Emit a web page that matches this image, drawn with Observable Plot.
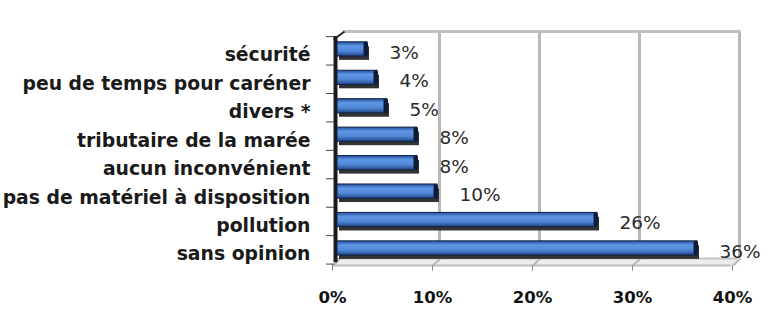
<!DOCTYPE html>
<html><head><meta charset="utf-8">
<script src="https://cdn.jsdelivr.net/npm/d3@7"></script>
<script src="https://cdn.jsdelivr.net/npm/@observablehq/plot@0.6"></script>
<style>body{margin:0;background:#fff}</style>
</head><body><div id="chart"></div>
<script>
const categories = ["sécurité","peu de temps pour caréner","divers *","tributaire de la marée","aucun inconvénient","pas de matériel à disposition","pollution","sans opinion"];
const values = [3,4,5,8,8,10,26,36];
const valueLabels = ["3%","4%","5%","8%","8%","10%","26%","36%"];
const xTicks = [0,10,20,30,40];
const xTickLabels = ["0%","10%","20%","30%","40%"];

const n = categories.length;
const rows = categories.map((c,i)=>({category:c, value:values[i], label:valueLabels[i], pos:n-1-i}));
const positions = rows.map(d=>d.pos);
const boundaries = d3.range(-1, n).map(k => k + 0.45);

const font = "'DejaVu Sans', sans-serif";
const yTop = 7.63, yFloorBack = -0.35, yFloorFront = -0.6;

const svg = Plot.plot({
  width: 762, height: 313,
  marginLeft: 337, marginRight: 25, marginTop: 31, marginBottom: 48,
  style: {fontFamily: font, background: "#fff", overflow: "visible"},
  x: {domain: [0, 40]},
  y: {domain: [yFloorFront, yTop]},
  marks: [
    // floor
    Plot.rect([0], {x1: -0.2, x2: 40, y1: yFloorFront, y2: yFloorBack, fill: "#ececec"}),
    Plot.ruleY([yFloorBack], {x1: 0, x2: 40.1, stroke: "#c4c4c4", strokeWidth: 2}),
    Plot.ruleY([yFloorFront], {x1: -0.5, x2: 39.4, stroke: "#bdbdbd", strokeWidth: 2}),
    Plot.link(xTicks, {x1: d => d + 0.3, y1: yFloorBack, x2: d => d - 0.45, y2: yFloorFront, stroke: "#b8b8b8", strokeWidth: 2}),
    // back wall grid
    Plot.ruleX(xTicks.slice(1), {y1: yFloorBack, y2: yTop, stroke: "#b8b8b8", strokeWidth: 3, dx: 2}),
    Plot.ruleY([yTop], {x1: 0.6, x2: 40.35, stroke: "#c0c0c0", strokeWidth: 3}),
    // left wall
    Plot.ruleX([0], {y1: -0.5, y2: 7.45, stroke: "#1a1a1a", strokeWidth: 4, dx: -2}),
    Plot.link([0], {x1: -0.4, y1: 7.35, x2: 0.7, y2: yTop, stroke: "#222", strokeWidth: 2}),
    Plot.ruleY(boundaries, {x1: -1.1, x2: -0.3, stroke: "#444", strokeWidth: 1}),
    // bars
    Plot.rect(rows, {x1: 0, x2: "value", y1: d => d.pos - 0.28, y2: d => d.pos + 0.2, dx: 2, dy: 3, fill: "#333"}),
    Plot.rect(rows, {x1: 0, x2: "value", y1: d => d.pos - 0.25, y2: d => d.pos + 0.25, fill: "url(#barGrad)", stroke: "#0f2244", strokeWidth: 1}),
    Plot.rect(rows, {x1: d => d.value - 0.35, x2: d => d.value + 0.1, y1: d => d.pos - 0.25, y2: d => d.pos + 0.25, fill: "#0c1c3a", rx: 2}),
    // value labels
    Plot.text(rows, {x: "value", y: "pos", text: "label", dx: 22, dy: 3.5, textAnchor: "start", fontSize: 18.5, fill: "#2a2a2a"}),
    // x ticks
    Plot.ruleX(xTicks, {y1: yFloorFront, y2: yFloorFront - 0.2, dx: -5, stroke: "#888"}),
    // axes
    Plot.axisX(xTicks, {tickFormat: d => xTickLabels[xTicks.indexOf(d)], tickSize: 0, tickPadding: 26, dx: -5, fontSize: 16.5, fontWeight: "bold", fill: "#111", label: null}),
    Plot.axisY(positions, {tickFormat: p => categories[n - 1 - p], tickSize: 0, tickPadding: 27, fontSize: 18.8, fontWeight: "bold", fill: "#1a1a1a", dy: 6, label: null})
  ]
});

const defs = d3.select(svg).insert("defs", ":first-child");
const grad = defs.append("linearGradient").attr("id", "barGrad").attr("x1", 0).attr("y1", 0).attr("x2", 0).attr("y2", 1);
[[0, "#24509a"], [0.3, "#5f97e6"], [0.65, "#4f86d6"], [1, "#1f4584"]].forEach(([o, c]) => grad.append("stop").attr("offset", o).attr("stop-color", c));

document.getElementById("chart").appendChild(svg);
</script>
</body></html>
